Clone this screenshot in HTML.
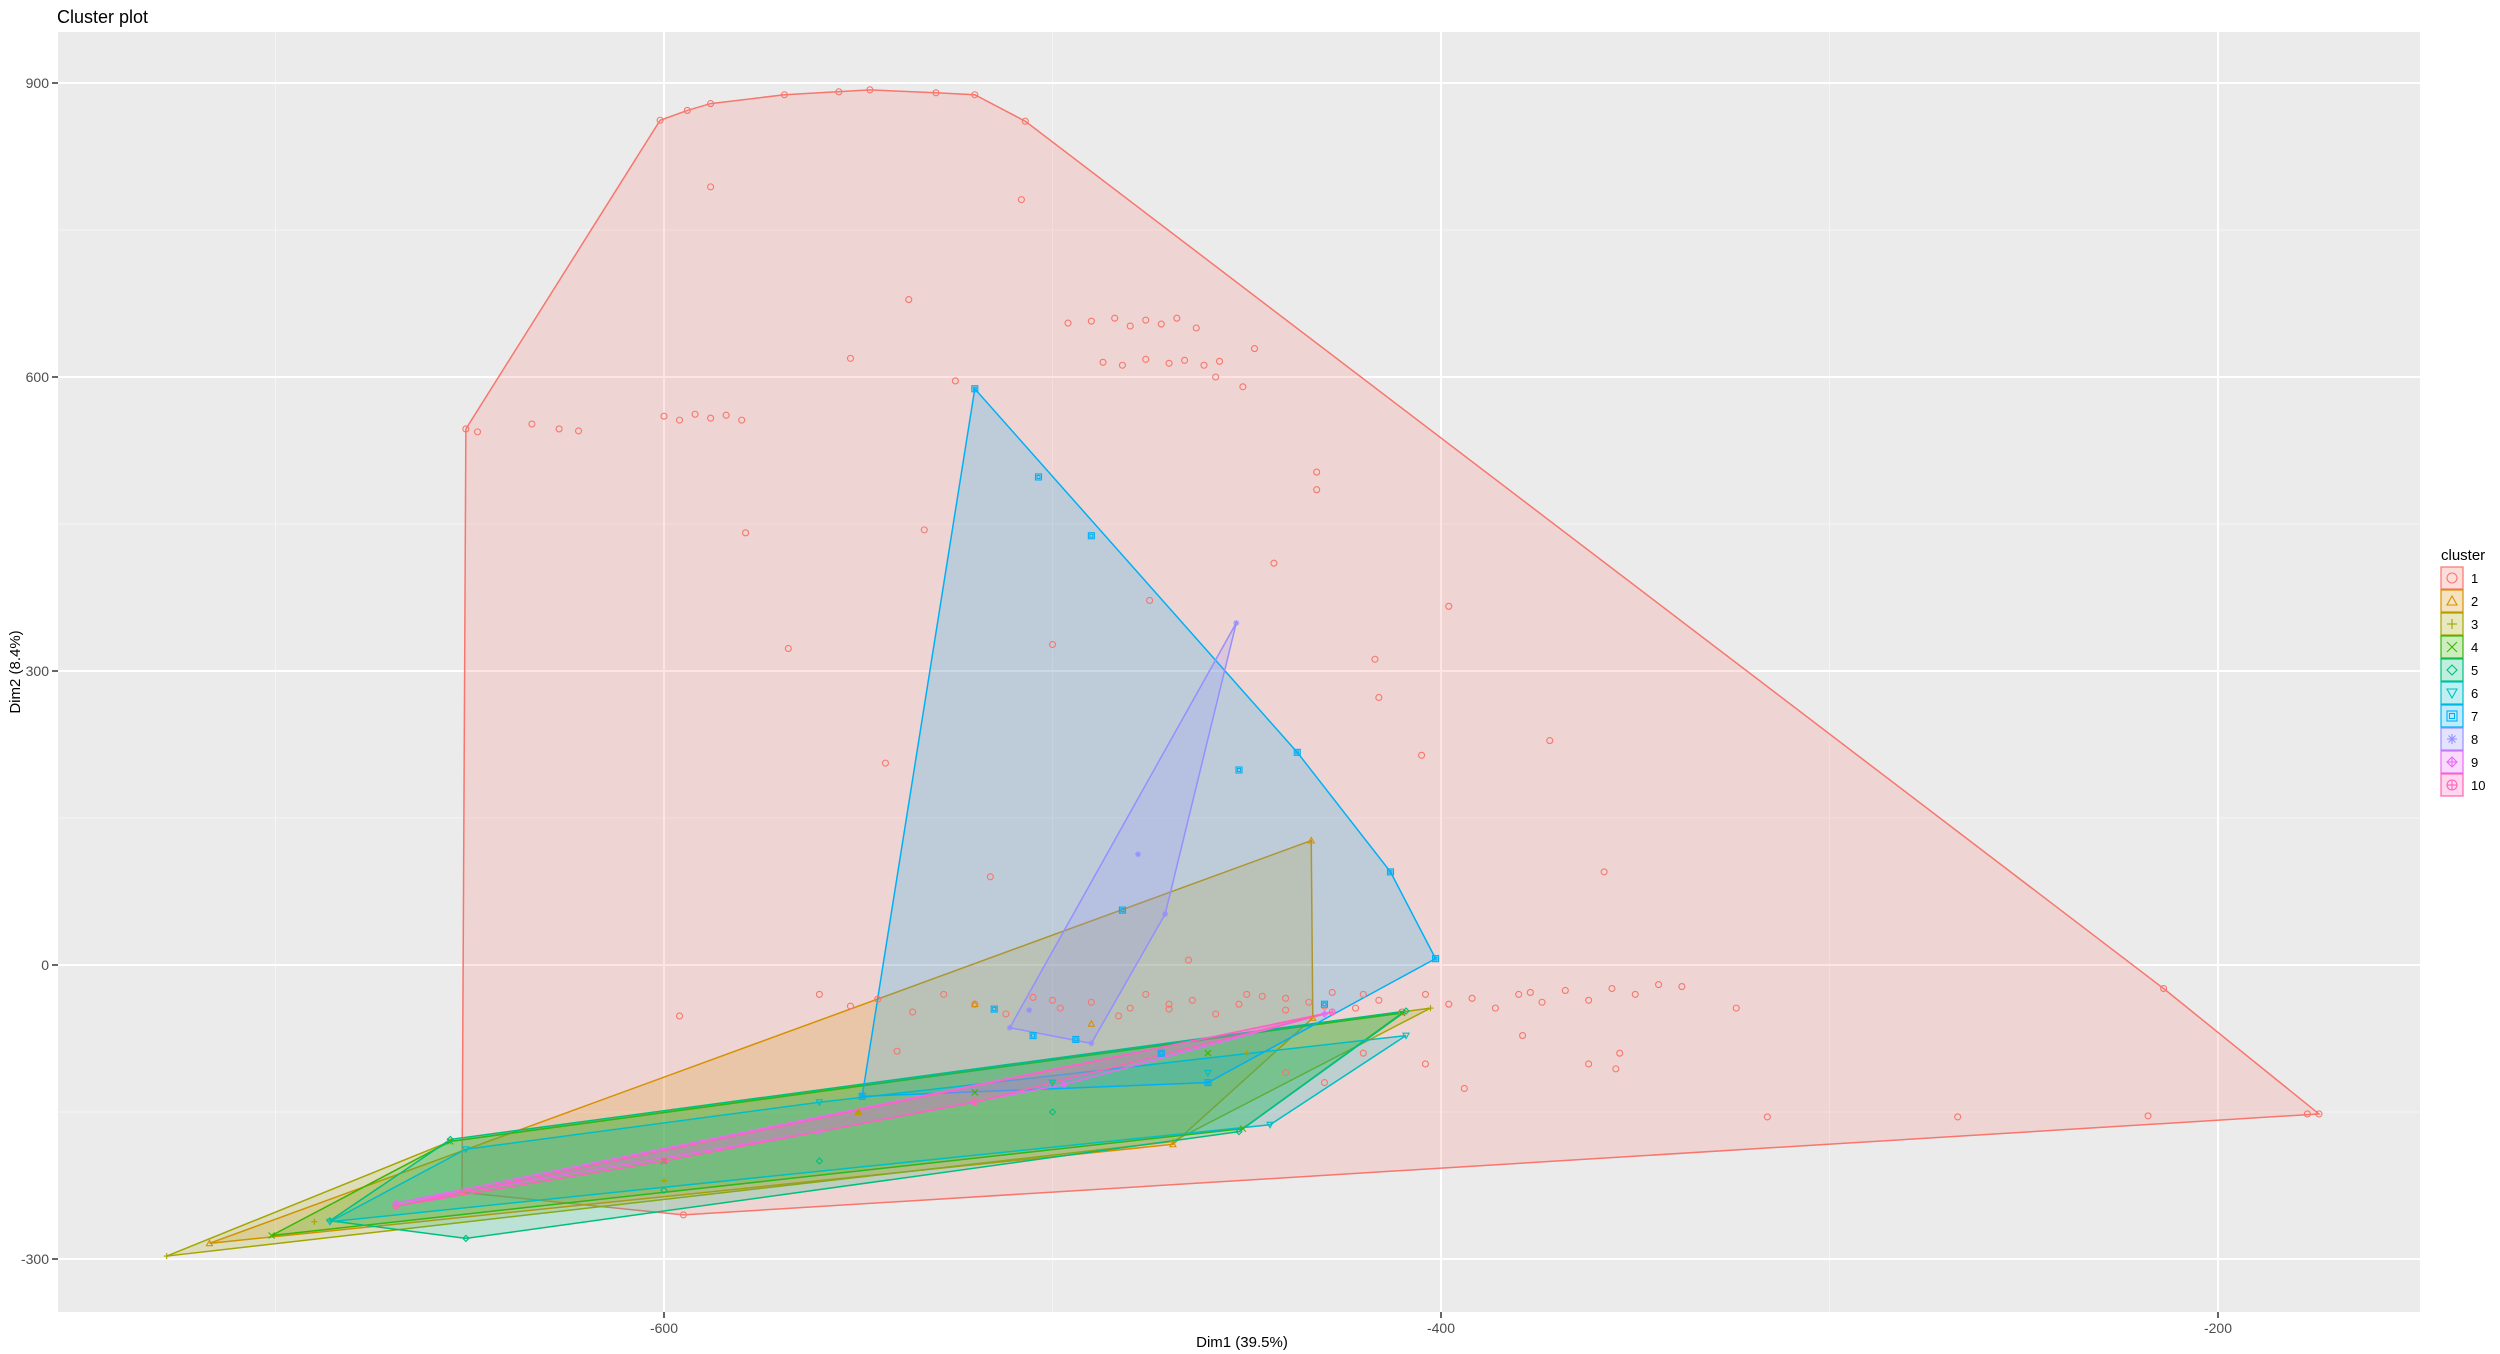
<!DOCTYPE html>
<html><head><meta charset="utf-8"><style>
html,body{margin:0;padding:0;background:#fff;}
svg{display:block;font-family:"Liberation Sans",sans-serif;}
</style></head><body>
<svg id="chart" width="2500" height="1354" xmlns="http://www.w3.org/2000/svg">
<text x="57" y="23" font-size="18" fill="#000">Cluster plot</text>
<rect x="58" y="32" width="2362" height="1280" fill="#EBEBEB"/>
<g id="grid"></g>
<g id="hulls"></g>
<g id="points"></g>
<g id="axes"></g>
<text x="1242" y="1347" font-size="15" text-anchor="middle" fill="#000">Dim1 (39.5%)</text>
<text transform="translate(20,672) rotate(-90)" font-size="15" text-anchor="middle" fill="#000">Dim2 (8.4%)</text>
<g id="legend"></g>
</svg>
<script>
const xTicks=[-600,-400,-200];
const yTicks=[-300,0,300,600,900];
const clusterNames=["1","2","3","4","5","6","7","8","9","10"];
const colors=["#F8766D","#D89000","#A3A500","#39B600","#00BF7D","#00BFC4","#00B0F6","#9590FF","#E76BF3","#FF62BC"];
const c1=[[-651,547],[-648,544],[-601,862],[-594,872],[-588,879],[-569,888],[-555,891],[-547,893],[-530,890],[-520,888],[-507,861],[-588,794],[-508,781],[-537,679],
[-496,655],[-490,657],[-484,660],[-480,652],[-476,658],[-472,654],[-468,660],[-463,650],[-487,615],[-482,612],[-476,618],[-470,614],[-466,617],[-461,612],[-457,616],[-448,629],[-451,590],[-458,600],
[-600,560],[-596,556],[-592,562],[-588,558],[-584,561],[-580,556],[-634,552],[-627,547],[-622,545],[-432,503],[-432,485],[-579,441],[-533,444],[-525,596],[-552,619],
[-568,323],[-500,327],[-475,372],[-443,410],[-398,366],[-417,312],[-416,273],[-405,214],[-372,229],[-358,95],[-543,206],[-516,90],[-465,5],
[-560,-30],[-552,-42],[-545,-35],[-536,-48],[-528,-30],[-520,-40],[-512,-50],[-505,-33],[-498,-44],[-490,-38],[-483,-52],[-476,-30],[-470,-45],[-464,-36],[-458,-50],[-452,-40],[-446,-32],[-440,-46],[-434,-38],[-428,-28],[-422,-44],[-416,-36],[-410,-48],[-404,-30],[-398,-40],[-392,-34],[-386,-44],[-380,-30],[-374,-38],[-368,-26],[-362,-36],[-356,-24],[-350,-30],[-344,-20],[-338,-22],[-450,-30],[-440,-34],[-430,-42],[-420,-30],[-470,-40],[-480,-44],[-500,-36],
[-596,-52],[-540,-88],[-404,-101],[-394,-126],[-379,-72],[-362,-101],[-354,-90],[-324,-44],[-316,-155],[-267,-155],[-218,-154],[-214,-24],[-177,-152],[-174,-152],[-355,-106],[-377,-28],[-652,-232],[-595,-255],[-430,-120],[-440,-110],[-420,-90]];
const c2=[[-717,-284],[-433.4,127],[-433,-54],[-469,-183],[-520,-40],[-490,-60],[-600,-200],[-550,-150]];
const c3=[[-728,-297],[-402.7,-44],[-469,-180],[-655,-180],[-600,-220],[-500,-120],[-450,-90],[-550,-150],[-690,-262]];
const c4=[[-655,-180],[-410,-49],[-451,-167],[-701,-276],[-600,-200],[-520,-130],[-460,-90]];
const c5=[[-651,-279],[-686,-261],[-655,-178],[-409,-47],[-452,-170],[-560,-200],[-500,-150],[-600,-230]];
const c6=[[-651,-188],[-409,-72],[-444,-163],[-686,-262],[-560,-140],[-500,-120],[-460,-110]];
const c7=[[-520,588],[-437,217],[-413,95],[-401.4,6.5],[-549,-134],[-503.6,498],[-490,438],[-452,199],[-482,56],[-515,-45],[-505,-72],[-494,-76],[-472,-90],[-430,-40],[-460,-120]];
const c8=[[-452.7,349],[-471,52],[-511,-64],[-506,-46],[-490,-80],[-478,113]];
const c9=[[-669,-243],[-497,-122],[-430,-50],[-560,-170]];
const c10=[[-669,-246],[-428,-48],[-520,-140],[-600,-200]];
const clusters=[c1,c2,c3,c4,c5,c6,c7,c8,c9,c10];
const NS="http://www.w3.org/2000/svg";
function xs(v){return 664+(v+600)*3.885;}
function ys(v){return 965-v*0.98;}
function mk(tag,at,parent){const e=document.createElementNS(NS,tag);for(const k in at)e.setAttribute(k,at[k]);parent.appendChild(e);return e;}
const grid=document.getElementById('grid'),axes=document.getElementById('axes');
[-700,-500,-300].forEach(v=>{const l=mk('line',{x1:xs(v),x2:xs(v),y1:32,y2:1312,stroke:'#F5F5F5','stroke-width':1},grid);});
[-150,150,450,750].forEach(v=>{const l=mk('line',{x1:58,x2:2420,y1:ys(v),y2:ys(v),stroke:'#F5F5F5','stroke-width':1},grid);});
xTicks.forEach(v=>{const l=mk('line',{x1:xs(v),x2:xs(v),y1:32,y2:1312,stroke:'#fff','stroke-width':2},grid);
const t=mk('line',{x1:xs(v),x2:xs(v),y1:1312,y2:1318,stroke:'#333','stroke-width':1.5},axes);
const tx=mk('text',{x:xs(v),y:1333,'font-size':14,'text-anchor':'middle',fill:'#4D4D4D'},axes);tx.textContent=v;});
yTicks.forEach(v=>{const l=mk('line',{x1:58,x2:2420,y1:ys(v),y2:ys(v),stroke:'#fff','stroke-width':2},grid);
const t=mk('line',{x1:52,x2:58,y1:ys(v),y2:ys(v),stroke:'#333','stroke-width':1.5},axes);
const tx=mk('text',{x:49,y:ys(v)+5,'font-size':14,'text-anchor':'end',fill:'#4D4D4D'},axes);tx.textContent=v;});
function hull(pts){const p=pts.map(a=>[xs(a[0]),ys(a[1])]).sort((a,b)=>a[0]-b[0]||a[1]-b[1]);const cr=(o,a,b)=>(a[0]-o[0])*(b[1]-o[1])-(a[1]-o[1])*(b[0]-o[0]);const lo=[],up=[];for(const q of p){while(lo.length>=2&&cr(lo[lo.length-2],lo[lo.length-1],q)<=0)lo.pop();lo.push(q);}for(let i=p.length-1;i>=0;i--){const q=p[i];while(up.length>=2&&cr(up[up.length-2],up[up.length-1],q)<=0)up.pop();up.push(q);}up.pop();lo.pop();return lo.concat(up);}
function marker(i,x,y,r,parent,col){const g=mk('g',{stroke:col,fill:'none','stroke-width':1.1},parent);
if(i===0)mk('circle',{cx:x,cy:y,r:r},g);
else if(i===1)mk('polygon',{points:`${x},${y-r} ${x-r},${y+r*0.8} ${x+r},${y+r*0.8}`},g);
else if(i===2){mk('line',{x1:x-r,x2:x+r,y1:y,y2:y},g);mk('line',{x1:x,x2:x,y1:y-r,y2:y+r},g);}
else if(i===3){mk('line',{x1:x-r,x2:x+r,y1:y-r,y2:y+r},g);mk('line',{x1:x-r,x2:x+r,y1:y+r,y2:y-r},g);}
else if(i===4)mk('polygon',{points:`${x},${y-r} ${x+r},${y} ${x},${y+r} ${x-r},${y}`},g);
else if(i===5)mk('polygon',{points:`${x},${y+r} ${x-r},${y-r*0.8} ${x+r},${y-r*0.8}`},g);
else if(i===6){mk('rect',{x:x-r,y:y-r,width:2*r,height:2*r},g);mk('rect',{x:x-r/2,y:y-r/2,width:r,height:r},g);}
else if(i===7){mk('line',{x1:x-r,x2:x+r,y1:y,y2:y},g);mk('line',{x1:x,x2:x,y1:y-r,y2:y+r},g);mk('line',{x1:x-r*.7,x2:x+r*.7,y1:y-r*.7,y2:y+r*.7},g);mk('line',{x1:x-r*.7,x2:x+r*.7,y1:y+r*.7,y2:y-r*.7},g);}
else if(i===8){mk('polygon',{points:`${x},${y-r} ${x+r},${y} ${x},${y+r} ${x-r},${y}`},g);mk('line',{x1:x-r,x2:x+r,y1:y,y2:y},g);mk('line',{x1:x,x2:x,y1:y-r,y2:y+r},g);}
else {mk('circle',{cx:x,cy:y,r:r},g);mk('line',{x1:x-r,x2:x+r,y1:y,y2:y},g);mk('line',{x1:x,x2:x,y1:y-r,y2:y+r},g);}
return g;}
const hg=document.getElementById('hulls'),pg=document.getElementById('points');
clusters.forEach((pts,i)=>{const h=hull(pts);const poly=mk('polygon',{points:h.map(p=>p.join(',')).join(' '),fill:colors[i],'fill-opacity':0.2,stroke:colors[i],'stroke-width':1.5},hg);

pts.forEach(p=>{const m=marker(i,xs(p[0]),ys(p[1]),3,pg,colors[i]);});});
const lg=document.getElementById('legend');
const lt=mk('text',{x:2441,y:560,'font-size':15,fill:'#000'},lg);lt.textContent='cluster';
clusterNames.forEach((n,i)=>{const y=567+i*23;const g=mk('g',{},lg);
mk('rect',{x:2441,y:y,width:22,height:22,fill:colors[i],'fill-opacity':0.25,stroke:colors[i],'stroke-width':1.2},g);
marker(i,2452,y+11,5,g,colors[i]);
const t=mk('text',{x:2471,y:y+16,'font-size':13,fill:'#000'},g);t.textContent=n;});
</script>
</body></html>
